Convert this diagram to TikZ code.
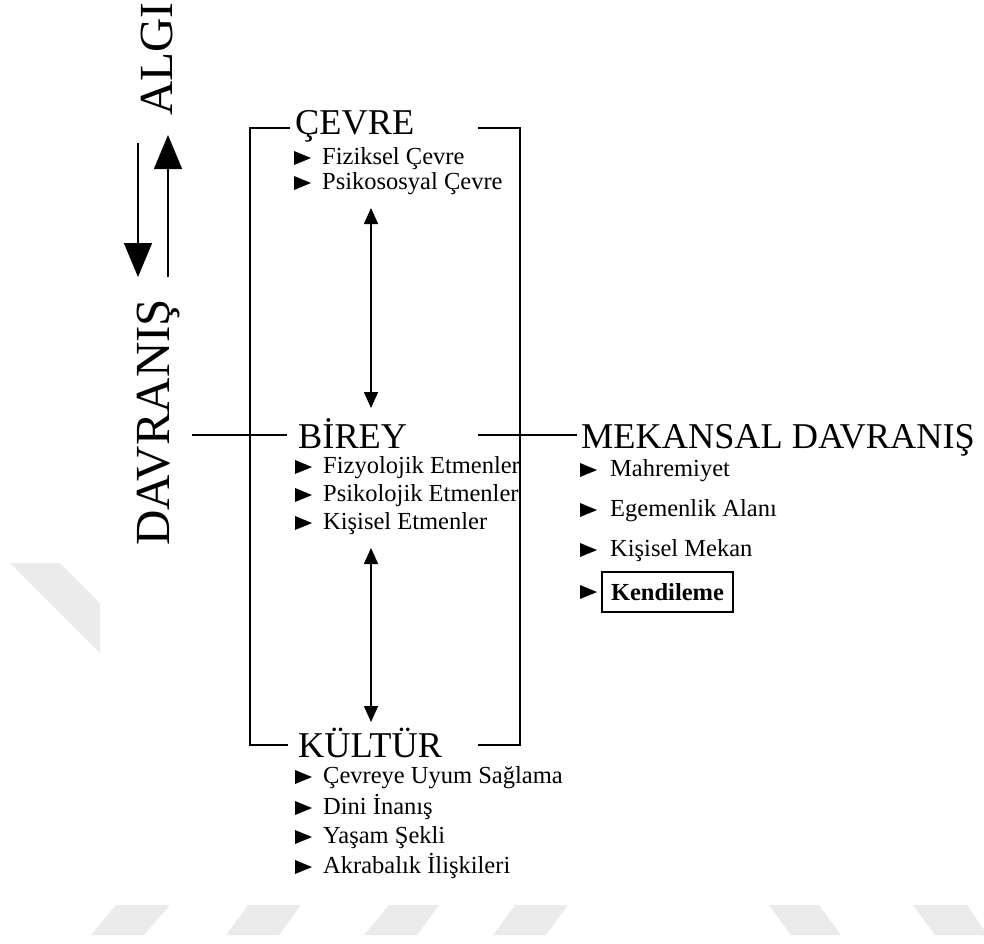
\documentclass[tikz,border=0pt]{standalone}
\usepackage{fontspec}
\setmainfont{Liberation Serif}
\usetikzlibrary{arrows.meta}
\tikzset{
  line/.style={line width=1.8pt},
  head/.style={font=\fontsize{36.3}{40}\selectfont, inner sep=0pt, anchor=base west},
  side/.style={font=\fontsize{49}{54}\selectfont, inner sep=0pt, rotate=90, anchor=base west},
  item/.style={font=\fontsize{24.5}{28}\selectfont, inner sep=0pt, anchor=base west},
  bigarrow/.style={line width=1.6pt, -{Triangle[length=34pt,width=28pt]}},
  dblarrow/.style={line width=1.6pt, {Triangle[length=16pt,width=14pt]}-{Triangle[length=16pt,width=14pt]}},
  wm/.style={fill=black!8, draw=none},
}
\newcommand\bitem[5]{%
  \fill (#2,#3-7) -- (#2+17,#3) -- (#2,#3+7) -- cycle;
  \node[item] (#1) at (#2+#5,#3+6) {#4};}
\begin{document}
\begin{tikzpicture}[x=1pt,y=-1pt]
\useasboundingbox (0,0) rectangle (984,943);
% watermark
\fill[wm] (10,563) -- (60,563) -- (100,603) -- (100,653) -- cycle;
\fill[wm] (116,905) -- (170,905) -- (144,935) -- (91,935) -- cycle;
\fill[wm] (248,905) -- (301,905) -- (279,935) -- (226,935) -- cycle;
\fill[wm] (389,905) -- (439,905) -- (417,935) -- (364,935) -- cycle;
\fill[wm] (515,905) -- (568,905) -- (546,935) -- (493,935) -- cycle;
\fill[wm] (769,905) -- (819,905) -- (841,935) -- (791,935) -- cycle;
\fill[wm] (913,905) -- (967,905) -- (984,930) -- (984,935) -- (935,935) -- cycle;

% side labels
\node[side, font=\fontsize{47.5}{52}\selectfont] (algi) at (172,116) {ALGI};
\node[side] (davranis) at (169,546) {DAVRANIŞ};
\coordinate (a1s) at (138,143); \coordinate (a1e) at (138,277);
\coordinate (a2s) at (168,277); \coordinate (a2e) at (168,135);
\draw[bigarrow] (a1s) -- (a1e);
\draw[bigarrow] (a2s) -- (a2e);

% headers
\node[head] (cevre) at (295,134) {ÇEVRE};
\node[head] (birey) at (298,448) {BİREY};
\node[head] (kultur) at (298,757) {KÜLTÜR};
\node[head] (mekansal) at (581,448) {MEKANSAL DAVRANIŞ};

% bracket
\coordinate (tl) at (250,128); \coordinate (tr) at (520,128);
\coordinate (bl) at (250,745); \coordinate (br) at (520,745);
\coordinate (tlx) at (290,128); \coordinate (trx) at (478,128);
\coordinate (blx) at (288,745); \coordinate (brx) at (478,745);
\draw[line] (tlx) -- (tl) -- (bl) -- (blx);
\draw[line] (trx) -- (tr) -- (br) -- (brx);
\coordinate (dl) at (192,435); \coordinate (dr) at (287,435);
\coordinate (ml) at (478,435); \coordinate (mr) at (577,435);
\draw[line] (dl) -- (dr);
\draw[line] (ml) -- (mr);

% items
\bitem{c1}{294}{158}{Fiziksel Çevre}{28}
\bitem{c2}{294}{183}{Psikososyal Çevre}{28}
\bitem{b1}{295}{467}{Fizyolojik Etmenler}{28}
\bitem{b2}{295}{495}{Psikolojik Etmenler}{28}
\bitem{b3}{295}{523}{Kişisel Etmenler}{28}
\bitem{k1}{295}{777}{Çevreye Uyum Sağlama}{28}
\bitem{k2}{295}{808}{Dini İnanış}{28}
\bitem{k3}{295}{837}{Yaşam Şekli}{28}
\bitem{k4}{295}{867}{Akrabalık İlişkileri}{28}
\bitem{m1}{580}{470}{Mahremiyet}{30}
\bitem{m2}{580}{510}{Egemenlik Alanı}{30}
\bitem{m3}{580}{550}{Kişisel Mekan}{30}
\fill (580,585) -- (597,592) -- (580,599) -- cycle;
\node[draw, line width=1.4pt, inner sep=0pt, minimum width=131pt, minimum height=40pt,
      font=\fontsize{24.5}{28}\selectfont\bfseries] (m4) at (667.5,592) {Kendileme};

% vertical double arrows
\coordinate (v1a) at (371,208); \coordinate (v1b) at (371,408);
\coordinate (v2a) at (371,548); \coordinate (v2b) at (371,722);
\draw[dblarrow] (v1a) -- (v1b);
\draw[dblarrow] (v2a) -- (v2b);
\end{tikzpicture}
\end{document}
